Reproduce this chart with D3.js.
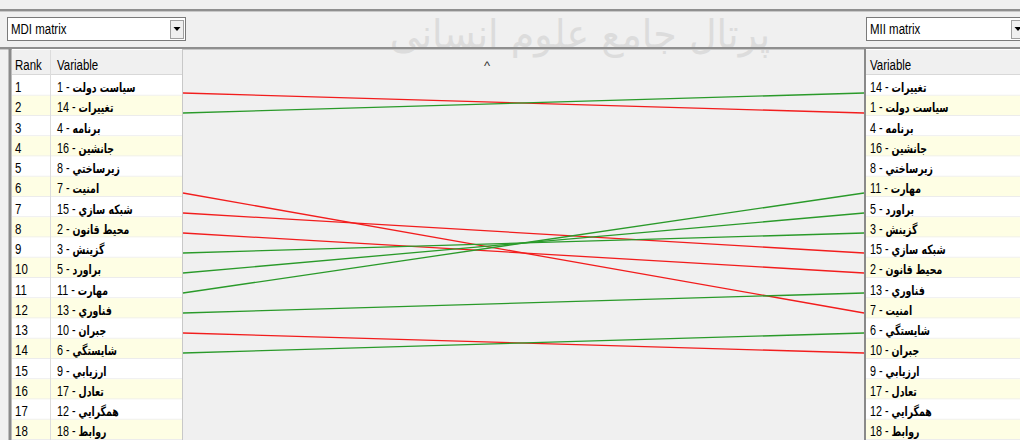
<!DOCTYPE html>
<html>
<head>
<meta charset="utf-8">
<script src="https://cdn.jsdelivr.net/npm/d3@7"></script>
<style>
  html, body { margin: 0; padding: 0; background: #f0f0f0; }
  svg { display: block; }
</style>
</head>
<body>
<div id="chart"></div>
<script>
// variable names, index = variable id - 1
const varNames = ["سياست دولت", "محيط قانون", "گزينش", "برنامه", "براورد", "شايستگي",
  "امنيت", "زيرساختي", "ارزيابي", "جبران", "مهارت", "همگرايي", "فناوري", "تغييرات",
  "شبکه سازي", "جانشين", "تعادل", "روابط"];

// variable ids, in rank order
const mdiRanking = [1, 14, 4, 16, 8, 7, 15, 2, 3, 5, 11, 13, 10, 6, 9, 17, 12, 18];
const miiRanking = [14, 1, 4, 16, 8, 11, 5, 3, 15, 2, 13, 7, 6, 10, 9, 17, 12, 18];

const leftTitle = "MDI matrix";
const rightTitle = "MII matrix";
const watermark = "پرتال جامع علوم انسانی";

const width = 1020, height = 440;
const latin = "'Liberation Sans', Arial, sans-serif";
const farsi = "'DejaVu Sans', sans-serif";

const svg = d3.select("#chart").append("svg")
  .attr("width", width)
  .attr("height", height);

// the window font is a narrow one: squeeze Liberation Sans horizontally
function narrow(sel, x, y, sx) {
  return sel.attr("transform", `translate(${x},${y}) scale(${sx || 0.82},1)`);
}

svg.append("rect").attr("width", width).attr("height", height).attr("fill", "#f0f0f0");

// faint watermark
narrow(svg.append("text"), 580, 48, 0.95)
  .attr("text-anchor", "middle")
  .attr("font-family", farsi)
  .attr("font-size", 40)
  .attr("fill", "#dcdcdc")
  .text(watermark);

// separators
[10, 48].forEach(y => {
  svg.append("line").attr("x1", 0).attr("x2", width).attr("y1", y).attr("y2", y)
    .attr("stroke", "#8f8f8f").attr("stroke-width", 2);
  svg.append("line").attr("x1", 0).attr("x2", width).attr("y1", y + 1.5).attr("y2", y + 1.5)
    .attr("stroke", "#c8c8c8").attr("stroke-width", 1);
});

function dropdown(x, w, label) {
  const g = svg.append("g");
  g.append("rect").attr("x", x + 0.5).attr("y", 17.5).attr("width", w).attr("height", 23)
    .attr("fill", "#fff").attr("stroke", "#7a7a7a");
  narrow(g.append("text"), x + 4, 34)
    .attr("font-family", latin).attr("font-size", 14).attr("fill", "#000").text(label);
  const bx = x + w - 15;
  g.append("rect").attr("x", bx + 0.5).attr("y", 20.5).attr("width", 13).attr("height", 18)
    .attr("fill", "#f0f0f0").attr("stroke", "#a0a0a0");
  g.append("path")
    .attr("d", `M${bx + 3.5},27 L${bx + 10.5},27 L${bx + 7},31 Z`)
    .attr("fill", "#000");
}
dropdown(7, 178, leftTitle);
dropdown(866, 160, rightTitle);

// table rows
const ranks = d3.range(1, 19);
const rowY = d3.scaleBand().domain(ranks).range([75.5, 440]);
const lineY = d3.scalePoint().domain(ranks).range([93, 433]);

function table(x0, x1, order, withRank) {
  const g = svg.append("g");
  g.append("rect").attr("x", x0).attr("y", 49).attr("width", x1 - x0).attr("height", height - 49)
    .attr("fill", "#fff");
  g.append("rect").attr("x", x0).attr("y", 50).attr("width", x1 - x0).attr("height", 25)
    .attr("fill", "#f0f0f0");
  g.append("line").attr("x1", x0).attr("x2", x1).attr("y1", 74.5).attr("y2", 74.5)
    .attr("stroke", "#d8d8d8");

  const rows = g.selectAll("g.row").data(order).join("g").attr("class", "row")
    .attr("transform", (d, i) => `translate(0,${rowY(i + 1)})`);
  rows.append("rect").attr("x", x0).attr("width", x1 - x0).attr("height", rowY.bandwidth())
    .attr("fill", (d, i) => i % 2 ? "#fefee4" : "#fff");
  rows.append("line").attr("x1", x0).attr("x2", x1)
    .attr("y1", rowY.bandwidth() - 0.5).attr("y2", rowY.bandwidth() - 0.5)
    .attr("stroke", "#ececec");

  const textX = withRank ? x0 + 45 : x0 + 4;
  if (withRank) {
    narrow(g.append("text"), x0 + 3, 70)
      .attr("font-family", latin).attr("font-size", 14).text("Rank");
    g.append("line").attr("x1", x0 + 38.5).attr("x2", x0 + 38.5).attr("y1", 50).attr("y2", height)
      .attr("stroke", "#dcdcdc");
    narrow(rows.append("text"), x0 + 3, 16.5)
      .attr("font-family", latin).attr("font-size", 14).text((d, i) => i + 1);
  }
  narrow(g.append("text"), textX, 70)
    .attr("font-family", latin).attr("font-size", 14).text("Variable");

  const lab = narrow(rows.append("text"), textX, 16.5, 0.72)
    .attr("direction", "ltr")
    .attr("fill", "#000");
  lab.append("tspan")
    .attr("font-family", latin).attr("font-size", 15)
    .text(d => `${d} - `);
  lab.append("tspan")
    .attr("font-family", farsi).attr("font-weight", "bold").attr("font-size", 13)
    .text(d => varNames[d - 1]);
  return g;
}

table(12, 182, mdiRanking, true);
table(866, width, miiRanking, false);

// borders
svg.append("line").attr("x1", 10).attr("x2", 10).attr("y1", 49).attr("y2", height)
  .attr("stroke", "#8a8a8a").attr("stroke-width", 3);
svg.append("line").attr("x1", 182.5).attr("x2", 182.5).attr("y1", 49).attr("y2", height)
  .attr("stroke", "#c8c8c8");
svg.append("line").attr("x1", 865).attr("x2", 865).attr("y1", 49).attr("y2", height)
  .attr("stroke", "#8a8a8a").attr("stroke-width", 2);

// caret mark in the middle panel
svg.append("text").attr("x", 487).attr("y", 70).attr("text-anchor", "middle")
  .attr("font-family", latin).attr("font-size", 13).attr("fill", "#333").text("^");

// rank change lines
const links = mdiRanking.map((id, i) => ({ id, from: i + 1, to: miiRanking.indexOf(id) + 1 }))
  .filter(d => d.from !== d.to);

svg.append("g").selectAll("line").data(links).join("line")
  .attr("x1", 183).attr("x2", 864)
  .attr("y1", d => lineY(d.from))
  .attr("y2", d => lineY(d.to))
  .attr("stroke", d => d.to > d.from ? "#f21d1d" : "#2a9a2a")
  .attr("stroke-width", 1.3);
</script>
</body>
</html>
